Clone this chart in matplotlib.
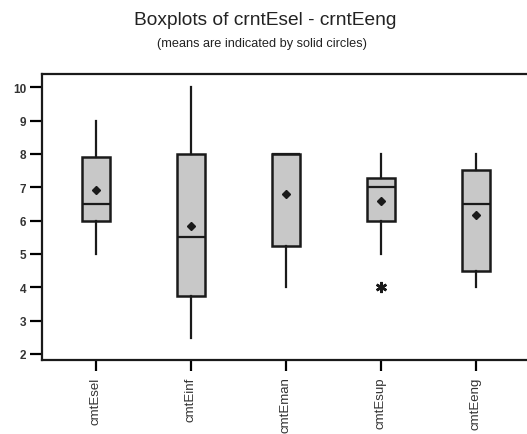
import matplotlib
matplotlib.use("Agg")
import matplotlib.pyplot as plt

plt.rcParams["font.family"] = ["Liberation Sans", "DejaVu Sans"]

# ---- Data ----
names = ["cmtEsel", "cmtEinf", "cmtEman", "cmtEsup", "cmtEeng"]
whislo = [5.0, 2.47, 4.0, 5.0, 4.0]
q1 = [6.0, 3.73, 5.25, 6.0, 4.5]
med = [6.5, 5.52, 8.0, 7.0, 6.5]
q3 = [7.9, 8.0, 8.0, 7.27, 7.52]
whishi = [9.0, 10.0, 8.0, 8.0, 8.0]
means = [6.93, 5.85, 6.8, 6.6, 6.17]
fliers = [[], [], [], [4.0], []]
yticks = [2, 3, 4, 5, 6, 7, 8, 9, 10]

stats = []
for i, n in enumerate(names):
    stats.append(dict(label=n, whislo=whislo[i], q1=q1[i], med=med[i], q3=q3[i],
                      whishi=whishi[i], mean=means[i], fliers=fliers[i]))

fig = plt.figure(figsize=(5.27, 4.35), dpi=100)
ax = fig.add_axes([0.079, 0.171, 0.932, 0.657])

pos = list(range(1, len(names) + 1))
ax.bxp(stats, positions=pos, widths=0.3, patch_artist=True, showmeans=True,
       showcaps=False,
       boxprops=dict(facecolor="#c8c8c8", edgecolor="#1a1a1a", linewidth=1.8),
       medianprops=dict(color="#1a1a1a", linewidth=1.6),
       whiskerprops=dict(color="#1a1a1a", linewidth=1.6),
       meanprops=dict(marker="D", markersize=4, markerfacecolor="#1a1a1a",
                      markeredgecolor="#1a1a1a"),
       flierprops=dict(marker=(6, 2, 0), markersize=8, markeredgewidth=1.8,
                       markeredgecolor="#1a1a1a"))

ax.set_xlim(0.43, 5.6)
ax.set_ylim(1.83, 10.4)
ax.set_yticks(yticks)
ax.set_xticks(pos)
ax.set_xticklabels(names, rotation=90, fontsize=9.5)
for lab in ax.get_yticklabels():
    lab.set_fontsize(8.5)
    lab.set_fontweight("bold")
    lab.set_color("#333333")
for lab in ax.get_xticklabels():
    lab.set_color("#333333")

for s in ax.spines.values():
    s.set_linewidth(1.6)
    s.set_color("#1a1a1a")
ax.tick_params(axis="y", length=9, width=1.6, pad=2)
ax.tick_params(axis="x", length=8, width=1.6, pad=4)

fig.text(0.503, 0.952, "Boxplots of crntEsel - crntEeng", ha="center", va="center",
         fontsize=13.8, color="#222222")
fig.text(0.497, 0.9, "(means are indicated by solid circles)", ha="center", va="center",
         fontsize=9.2, color="#222222")

fig.savefig("out.png", dpi=100)
